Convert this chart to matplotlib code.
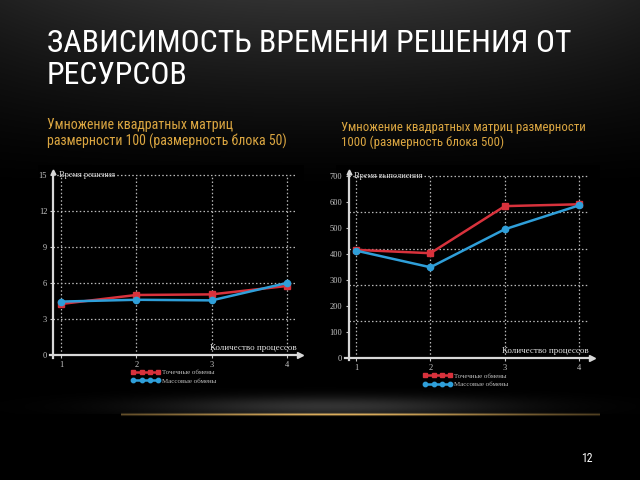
import matplotlib
matplotlib.use('Agg')
import matplotlib.pyplot as plt
import numpy as np

# --- data ---
procs = [1, 2, 3, 4]

# left chart: matrices 100x100, block 50
left_point = [4.25, 5.0, 5.05, 5.75]    # Точечные обмены
left_mass = [4.45, 4.6, 4.55, 6.0]      # Массовые обмены
left_yticks = [0, 3, 6, 9, 12, 15]

# right chart: matrices 1000x1000, block 500
right_point = [415, 402, 583, 590]
right_mass = [412, 348, 494, 586]
right_yticks = [0, 100, 200, 300, 400, 500, 600, 700]

title = 'ЗАВИСИМОСТЬ ВРЕМЕНИ РЕШЕНИЯ ОТ\nРЕСУРСОВ'
sub_left = 'Умножение квадратных матриц\nразмерности 100 (размерность блока 50)'
sub_right = 'Умножение квадратных матриц размерности\n1000 (размерность блока 500)'
ylabel_left = 'Время решения'
ylabel_right = 'Время выполнения'
xlabel = 'Количество процессов'
names = ['Точечные обмены', 'Массовые обмены']

NARROW = ['Roboto Condensed', 'PT Sans Narrow', 'DejaVu Sans']
SERIF = ['Liberation Serif', 'DejaVu Serif']
RED = '#d8323c'
BLUE = '#2f9fd9'
GOLD = '#dba641'

fig = plt.figure(figsize=(6.4, 4.8), dpi=100)
fig.patch.set_facecolor('black')

# slide background: grey at the top fading to black, glow + golden line at bottom
H, W = 480, 640
yy, xx = np.mgrid[0:H, 0:W].astype(float)
base = 0.19 * np.clip(1 - yy / 190.0, 0, 1) ** 1.3
base *= 1 - 0.35 * ((xx - 320) / 320) ** 2
glow = 0.20 * np.exp(-((xx - 330) / 170) ** 2) * np.exp(-((yy - 406) / 10) ** 2) * (yy < 414)
img = np.dstack([base + glow] * 3)
line = np.exp(-((yy - 414) / 1.1) ** 2)
fade = np.exp(-((xx - 340) / 190) ** 2)
gold = np.array([0.86, 0.68, 0.36])
for c in range(3):
    img[:, :, c] += line * (0.25 + 0.75 * fade) * gold[c] * ((xx > 120) & (xx < 600))
img = np.clip(img, 0, 1)

bg = fig.add_axes([0, 0, 1, 1])
bg.imshow(img, extent=[0, W, H, 0], aspect='auto', interpolation='bilinear')
bg.set_xlim(0, W)
bg.set_ylim(H, 0)
bg.axis('off')

t_title = bg.text(47, 29, title, color='white', fontsize=26, family=NARROW, va='top',
                  ha='left', linespacing=1.13)
t_left = bg.text(47, 118, sub_left, color=GOLD, fontsize=11, family=NARROW, va='top',
                 ha='left', linespacing=1.12)
t_right = bg.text(341, 121, sub_right, color=GOLD, fontsize=11, family=NARROW, va='top',
                  ha='left', linespacing=1.12)
bg.text(587, 458, '12', color='white', fontsize=8.5, family=NARROW, va='center', ha='center')

# fit the slide texts to the widths seen on the slide
fig.canvas.draw()
rend = fig.canvas.get_renderer()
for t, width in [(t_title, 525), (t_left, 240), (t_right, 244)]:
    w = t.get_window_extent(rend).width
    t.set_fontsize(t.get_fontsize() * width / w)


def draw_chart(rect, xlim, ylim, yticks, ytop, hgrid, pts, mass, ylab, leg_anchor):
    ax = fig.add_axes(rect)
    ax.set_facecolor('black')
    ax.set_xlim(*xlim)
    ax.set_ylim(*ylim)
    for s in ['top', 'right']:
        ax.spines[s].set_visible(False)
    ax.spines['left'].set_position(('data', 0.9))
    ax.spines['bottom'].set_position(('data', 0))
    ax.spines['left'].set_bounds(ylim[0] * 0.08, ytop)
    ax.spines['bottom'].set_bounds(0.85, 4.17)
    for s in ['left', 'bottom']:
        ax.spines[s].set_color('#d8d8d8')
        ax.spines[s].set_linewidth(1.6)
    ax.plot(4.17, 0, '>', color='#d8d8d8', ms=4, clip_on=False)
    ax.plot(0.9, ytop, '^', color='#d8d8d8', ms=3.5, clip_on=False)

    ax.set_xticks(procs)
    ax.set_yticks(yticks)
    ax.tick_params(colors='#c8c8c8', labelsize=6, length=2.5, width=0.8, pad=2)
    for lab in ax.get_xticklabels() + ax.get_yticklabels():
        lab.set_family(SERIF)

    ax.hlines(hgrid, 0.9, 4.12, colors='#b8b8b8', linestyles=(0, (1.2, 1.8)), lw=0.9)
    ax.vlines(procs, 0, hgrid[-1], colors='#b8b8b8', linestyles=(0, (1.2, 1.8)), lw=0.9)

    ax.plot(procs, pts, color=RED, lw=1.8, marker='s', ms=4.5, label=names[0])
    ax.plot(procs, mass, color=BLUE, lw=1.8, marker='o', ms=4.5, label=names[1])

    ax.text(0.97, yticks[-1], ylab, color='#e0e0e0', fontsize=6, family=SERIF,
            ha='left', va='center')
    ax.text(4.13, (ylim[1] - ylim[0]) * 0.012, xlabel, color='#e0e0e0', fontsize=6.5,
            family=SERIF, ha='right', va='bottom')

    leg = ax.legend(loc='center', bbox_to_anchor=leg_anchor, bbox_transform=fig.transFigure,
                    frameon=False, numpoints=4, handlelength=4.2, markerscale=0.7,
                    handletextpad=0.3, labelspacing=0.35, prop={'family': SERIF, 'size': 5})
    for t in leg.get_texts():
        t.set_color('#bfbfbf')
    return ax


draw_chart([38 / 640, 92 / 480, 266 / 640, 223 / 480], (0.695, 4.227), (-2.75, 15.83),
           left_yticks, 15.25, left_yticks[1:], left_point, left_mass, ylabel_left,
           (174 / 640, 1 - 376.5 / 480))

draw_chart([336 / 640, 92 / 480, 264 / 640, 223 / 480], (0.731, 4.28), (-116, 741),
           right_yticks, 715, list(np.linspace(0, 700, 6)[1:]), right_point, right_mass,
           ylabel_right, (466 / 640, 1 - 380 / 480))

fig.savefig('out.png', dpi=100, facecolor='black')
